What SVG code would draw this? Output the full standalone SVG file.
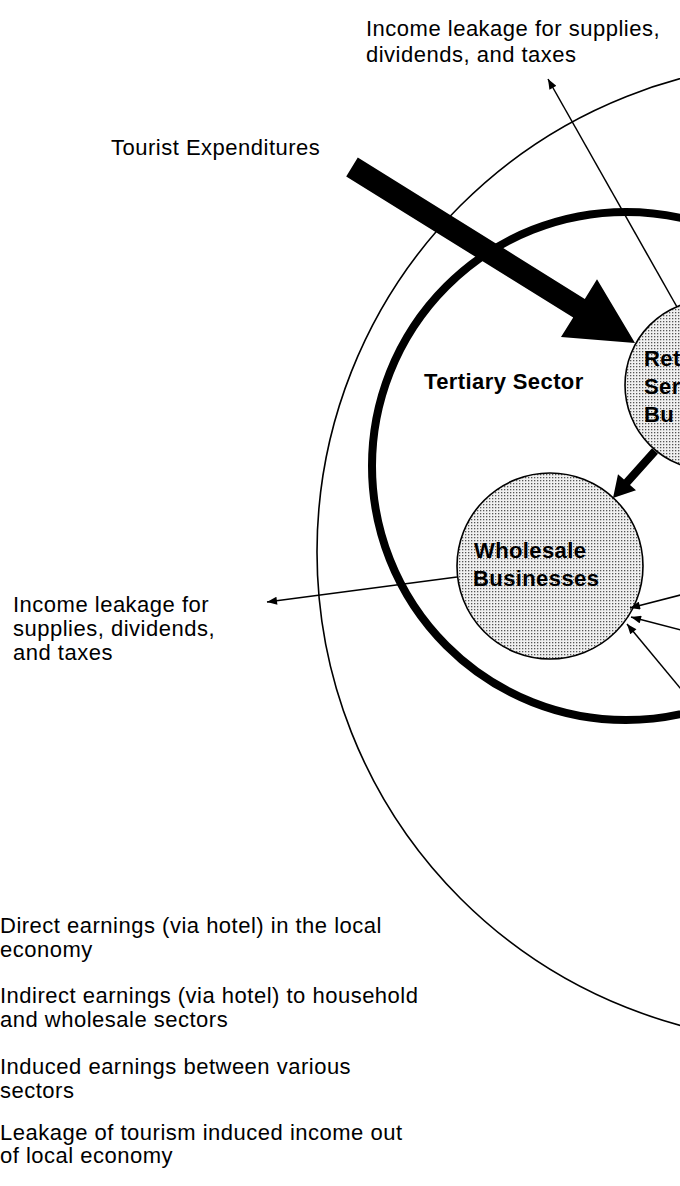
<svg xmlns="http://www.w3.org/2000/svg" width="680" height="1186" viewBox="0 0 680 1186">
<style>
.t{font-family:"Liberation Sans",Arial,Helvetica,sans-serif;font-size:22px;letter-spacing:0.5px;fill:#000}
.b{font-family:"Liberation Sans",Arial,Helvetica,sans-serif;font-size:22px;font-weight:bold;letter-spacing:0.4px;fill:#000}
.ring{fill:none;stroke:#000}
.node{fill:url(#dots);stroke:#000;stroke-width:1.6}
.thin{fill:none;stroke:#000;stroke-width:1.5}
</style>
<defs>
<pattern id="dots" width="3" height="3" patternUnits="userSpaceOnUse">
<rect width="3" height="3" fill="#f0f0f0"/>
<rect x="0" y="0" width="1.3" height="1.3" fill="#555"/>
</pattern>
<marker id="ah" viewBox="0 0 10 8" refX="10" refY="4" markerWidth="11" markerHeight="8" orient="auto" markerUnits="userSpaceOnUse">
<path d="M0,0 L10,4 L0,8 z" fill="#000"/>
</marker>
</defs>
<rect width="680" height="1186" fill="#fff"/>

<g id="local-economy">
<circle class="ring" cx="807" cy="552" r="490" stroke-width="1.6"/>
</g>
<g id="tertiary-sector">
<circle class="ring" cx="626" cy="466" r="254" stroke-width="8"/>
<text class="b" x="424" y="389">Tertiary Sector</text>
</g>

<g id="retail">
<circle class="node" cx="710" cy="385" r="85"/>
<text class="b" x="644" y="366">Ret</text>
<text class="b" x="644" y="394">Ser</text>
<text class="b" x="644" y="422">Bu</text>
</g>

<g id="wholesale">
<circle class="node" cx="550" cy="566" r="93"/>
<text class="b" x="474" y="558">Wholesale</text>
<text class="b" x="473" y="586">Businesses</text>
</g>

<g id="connectors">
<polygon points="357.8,157.6 584.8,298.9 597,279.3 635,343 561,337.1 573.2,317.6 346.2,176.4" fill="#000"/>
<polygon points="652,448.3 624,479.6 618,474.3 613,498 636,490.3 630,485 658,453.7" fill="#000"/>
<line class="thin" x1="677" y1="307" x2="548" y2="79" marker-end="url(#ah)"/>
<line class="thin" x1="457" y1="577" x2="267" y2="602" marker-end="url(#ah)"/>
<line class="thin" x1="700" y1="590" x2="630" y2="608" stroke-width="2" marker-end="url(#ah)"/>
<line class="thin" x1="700" y1="635" x2="631" y2="617" stroke-width="2" marker-end="url(#ah)"/>
<line class="thin" x1="700" y1="712" x2="627" y2="624" stroke-width="2.6" marker-end="url(#ah)"/>
</g>

<g id="labels">
<text class="t" x="366" y="36">Income leakage for supplies,</text>
<text class="t" x="366" y="62">dividends, and taxes</text>
<text class="t" x="111" y="155">Tourist Expenditures</text>
<text class="t" x="13" y="612">Income leakage for</text>
<text class="t" x="13" y="636">supplies, dividends,</text>
<text class="t" x="13" y="660">and taxes</text>
</g>

<g id="legend">
<text class="t" x="0" y="933">Direct earnings (via hotel) in the local</text>
<text class="t" x="0" y="957">economy</text>
<text class="t" x="0" y="1003">Indirect earnings (via hotel) to household</text>
<text class="t" x="0" y="1027">and wholesale sectors</text>
<text class="t" x="0" y="1074">Induced earnings between various</text>
<text class="t" x="0" y="1098">sectors</text>
<text class="t" x="0" y="1140">Leakage of tourism induced income out</text>
<text class="t" x="0" y="1163">of local economy</text>
</g>
</svg>
